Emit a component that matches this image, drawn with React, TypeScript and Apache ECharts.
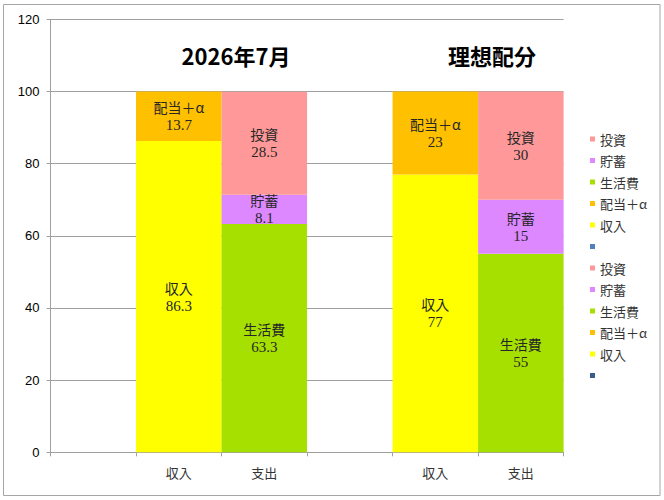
import React, { useEffect, useRef } from "react";
import * as echarts from "echarts";

// Categories along the x axis (two groups: 2026年7月 and 理想配分)
const categories = ["", "収入", "支出", "", "収入", "支出"];
const groupTitles = ["2026年7月", "理想配分"];

const seriesNames = ["収入", "配当＋α", "生活費", "貯蓄", "投資"];
const seriesColors = ["#FFFF00", "#FFC000", "#A6E000", "#DD88FF", "#FF9999"];
const blankNames = [" ", "  "];
const blankColors = ["#4F81BD", "#385D8A"];

// Group 1: 2026年7月
const julIncome = [null, 86.3, null, null, null, null];
const julDividend = [null, 13.7, null, null, null, null];
const julLiving = [null, null, 63.3, null, null, null];
const julSaving = [null, null, 8.1, null, null, null];
const julInvest = [null, null, 28.5, null, null, null];

// Group 2: 理想配分
const idealIncome = [null, null, null, null, 77, null];
const idealDividend = [null, null, null, null, 23, null];
const idealLiving = [null, null, null, null, null, 55];
const idealSaving = [null, null, null, null, null, 15];
const idealInvest = [null, null, null, null, null, 30];

const emptyValues = [null, null, null, null, null, null];

const julData = [julIncome, julDividend, julLiving, julSaving, julInvest];
const idealData = [idealIncome, idealDividend, idealLiving, idealSaving, idealInvest];

const ZW = "\u200b";
const SERIF = "'Liberation Serif', 'DejaVu Serif', serif";
const SANS = "'Noto Sans CJK JP', 'Noto Sans', sans-serif";

function makeSeries(names: string[], data: (number | null)[][], suffix: string) {
  return names.map((n, i) => ({
    name: n + suffix,
    type: "bar",
    stack: "total",
    barCategoryGap: "0%",
    data: data[i],
    itemStyle: { color: seriesColors[i] },
    label: {
      show: true,
      position: "inside",
      color: "#262626",
      formatter: (p: any) => (p.value == null ? "" : `{n|${n}}\n{v|${p.value}}`),
      rich: {
        n: { fontFamily: SANS, fontSize: 14, lineHeight: 18, color: "#262626" },
        v: { fontFamily: SERIF, fontSize: 15, lineHeight: 18, color: "#262626" },
      },
    },
    emphasis: { disabled: true },
  }));
}

export default function App() {
  const ref = useRef<HTMLDivElement>(null);

  useEffect(() => {
    if (!ref.current) return;
    const chart = echarts.init(ref.current, undefined, { renderer: "svg" });

    const series: any[] = [
      ...makeSeries(seriesNames, julData, ""),
      {
        name: blankNames[0],
        type: "bar",
        stack: "total",
        data: emptyValues,
        itemStyle: { color: blankColors[0] },
      },
      ...makeSeries(seriesNames, idealData, ZW),
      {
        name: blankNames[1],
        type: "bar",
        stack: "total",
        data: emptyValues,
        itemStyle: { color: blankColors[1] },
      },
    ];

    const legendData = [
      ...seriesNames.slice().reverse(),
      blankNames[0],
      ...seriesNames.slice().reverse().map((n) => n + ZW),
      blankNames[1],
    ];

    chart.setOption({
      animation: false,
      backgroundColor: "#ffffff",
      title: groupTitles.map((t, i) => ({
        text: t,
        left: i === 0 ? 231 : 487,
        top: 39,
        textAlign: "center",
        textStyle: {
          fontFamily: SANS,
          fontSize: 22,
          fontWeight: "bold",
          color: "#000000",
        },
      })),
      graphic: [
        {
          type: "rect",
          shape: { x: 3.5, y: 4.5, width: 656.5, height: 491 },
          style: { fill: "none", stroke: "#A6A6A6", lineWidth: 1 },
          silent: true,
        },
      ],
      grid: { left: 50.5, top: 19.3, right: 100.4, bottom: 47.7 },
      legend: {
        orient: "vertical",
        left: 585,
        top: 127.5,
        itemWidth: 5,
        itemHeight: 5,
        itemGap: 8.5,
        icon: "rect",
        selectedMode: false,
        data: legendData,
        formatter: (name: string) => name.replace(/\u200b/g, ""),
        textStyle: {
          fontFamily: SANS,
          fontSize: 13,
          lineHeight: 13,
          color: "#333333",
        },
      },
      xAxis: {
        type: "category",
        data: categories,
        axisLine: { show: true, lineStyle: { color: "#A0A0A0", width: 1 } },
        axisTick: { show: true, length: 4, lineStyle: { color: "#A0A0A0" } },
        axisLabel: {
          interval: 0,
          margin: 14,
          fontFamily: SANS,
          fontSize: 13,
          color: "#333333",
        },
      },
      yAxis: {
        type: "value",
        min: 0,
        max: 120,
        interval: 20,
        axisLine: { show: true, lineStyle: { color: "#A0A0A0", width: 1 } },
        axisTick: { show: true, length: 4, lineStyle: { color: "#A0A0A0" } },
        splitLine: { show: true, lineStyle: { color: "#A0A0A0", width: 1 } },
        axisLabel: {
          margin: 11,
          fontFamily: "'Liberation Sans', Arial, sans-serif",
          fontSize: 13,
          color: "#000000",
        },
      },
      series,
    });

    return () => chart.dispose();
  }, []);

  return (
    <div
      ref={ref}
      style={{ position: "absolute", left: 0, top: 0, width: 664, height: 500 }}
    />
  );
}
